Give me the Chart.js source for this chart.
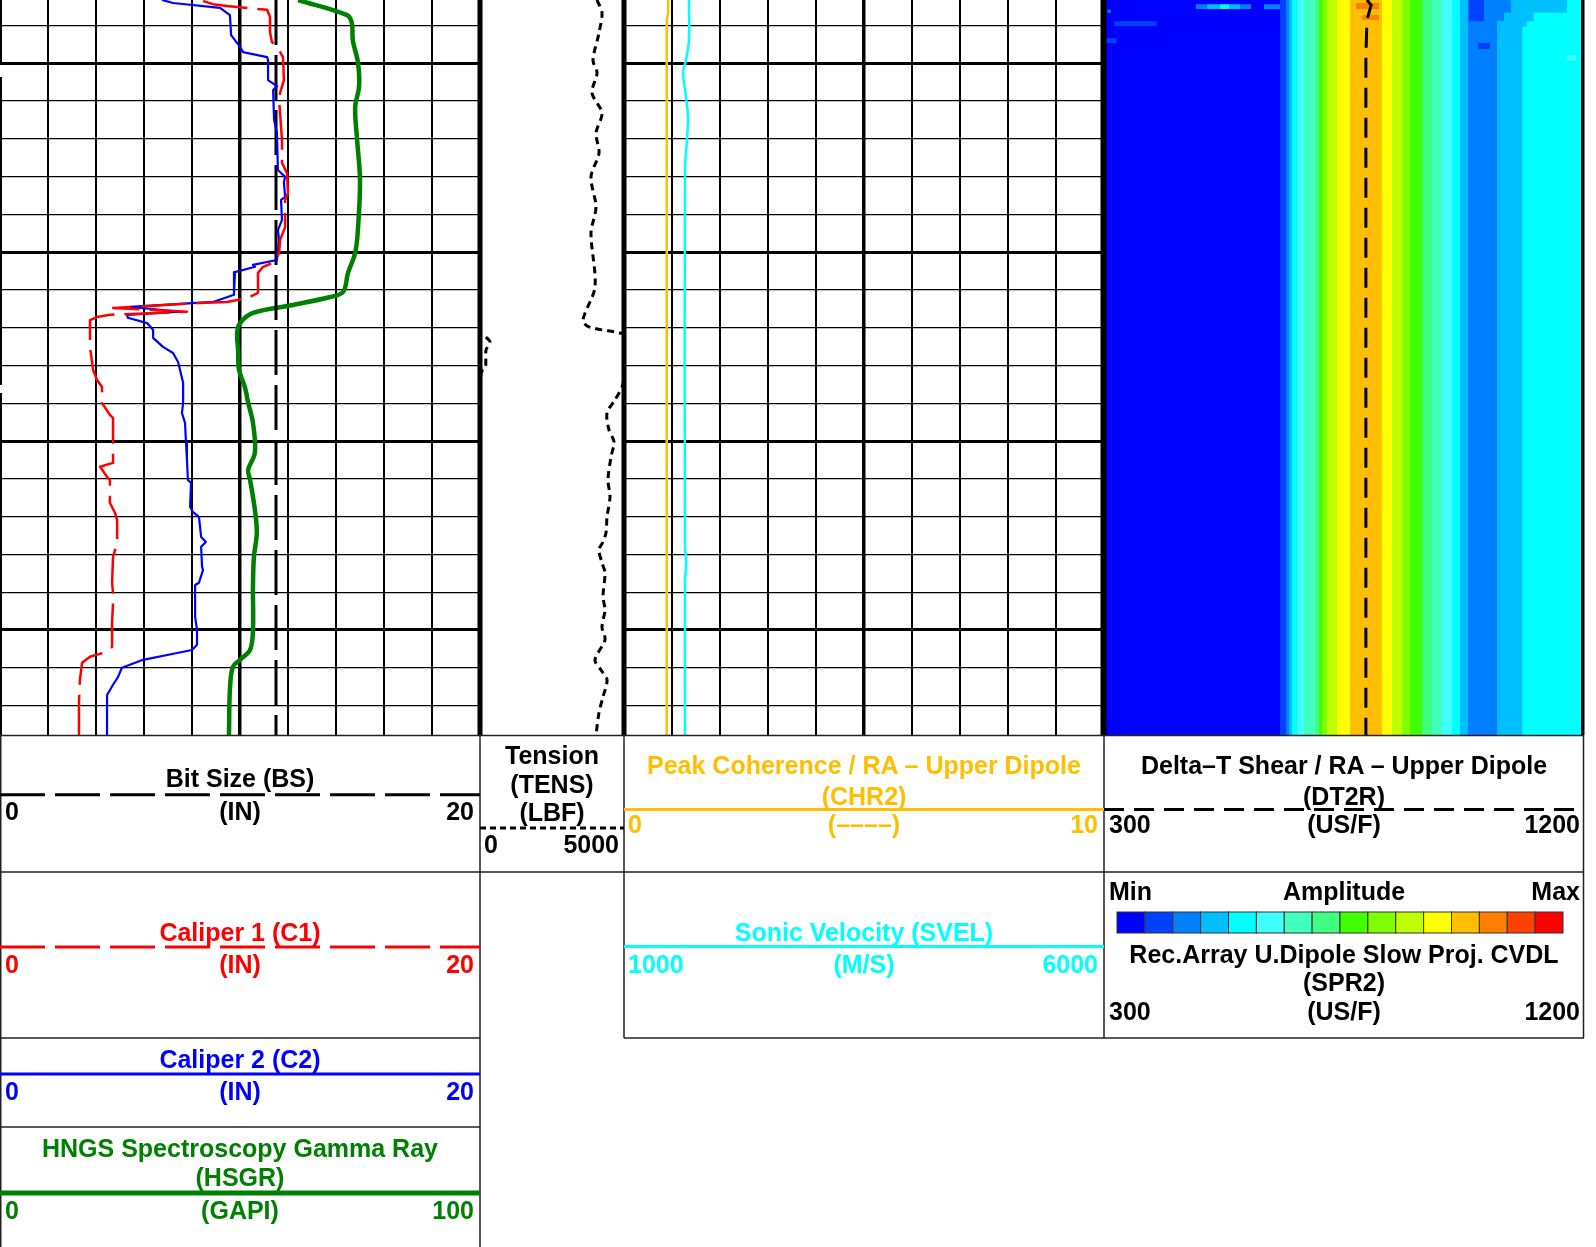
<!DOCTYPE html>
<html>
<head>
<meta charset="utf-8">
<script src="https://cdn.jsdelivr.net/npm/chart.js@4.4.1/dist/chart.umd.min.js"></script>
<style>
  html, body { margin: 0; padding: 0; background: #fff; }
  body { width: 1596px; height: 1247px; position: relative; overflow: hidden; }
  canvas { position: absolute; top: 0; }
  #frame { position: absolute; left: 0; top: 0; }
</style>
</head>
<body>
<canvas id="trackMain" width="480" height="735" style="left:0"></canvas>
<canvas id="trackTension" width="144" height="735" style="left:480px"></canvas>
<canvas id="trackSonic" width="480" height="735" style="left:624px"></canvas>
<canvas id="trackVdl" width="480" height="735" style="left:1104px"></canvas>
<svg id="frame" width="1596" height="1247"></svg>
<script>
// ---- depth window (m) ----
const DEPTH_TOP = 1498.33;
const DEPTH_BOTTOM = 1517.78;

// ---- Bit size (in) ----
const bitSizeDepth = [DEPTH_TOP, DEPTH_BOTTOM];
const bitSizeValue = [11.5, 11.5];

// ---- Caliper 1 (in) ----
const c1Depth = [1498.36, 1498.44, 1498.49, 1498.59, 1498.78, 1499.18, 1499.44, 1499.60, 1499.84,
  1500.45, 1500.79, 1500.98, 1501.69, 1502.03, 1502.64, 1502.91, 1503.44, 1503.62, 1504.34, 1504.68,
  1505.02, 1505.26, 1505.39, 1505.55, 1506.08, 1506.21, 1506.32, 1506.35, 1506.48, 1506.58, 1506.66,
  1506.72, 1506.80, 1507.51, 1508.12, 1508.38, 1508.57, 1508.99, 1509.31, 1509.39, 1510.58, 1510.68,
  1510.95, 1511.03, 1511.64, 1511.90, 1512.09, 1512.70, 1513.07, 1513.75, 1514.02, 1514.28, 1514.81,
  1515.45, 1515.61, 1515.71, 1515.87, 1516.32, 1516.93, 1517.78];
const c1Value = [8.46, 8.88, 9.46, 11.13, 11.25, 11.25, 11.33, 11.58, 11.79,
  11.83, 11.67, 11.63, 11.71, 11.75, 11.75, 11.96, 12.0, 11.88, 11.88, 11.67,
  11.63, 11.46, 10.96, 10.75, 10.75, 10.33, 9.46, 8.33, 4.71, 7.79, 4.58,
  4.04, 3.75, 3.75, 3.88, 4.04, 4.25, 4.25, 4.58, 4.71, 4.71, 4.17,
  4.46, 4.58, 4.58, 4.79, 4.88, 4.88, 4.71, 4.67, 4.71, 4.71, 4.67,
  4.67, 4.29, 3.75, 3.42, 3.33, 3.29, 3.29];

// ---- Caliper 2 (in) ----
const c2Depth = [1498.33, 1498.41, 1498.54, 1498.73, 1499.26, 1499.57, 1499.71, 1499.84, 1499.92,
  1500.45, 1500.61, 1500.71, 1501.50, 1501.85, 1502.83, 1503.01, 1503.15, 1503.54, 1503.62,
  1504.15, 1504.42, 1504.68, 1505.21, 1505.34, 1505.39, 1505.53, 1506.13, 1506.32, 1506.45,
  1506.58, 1506.66, 1506.74, 1506.88, 1507.06, 1507.27, 1507.51, 1507.67, 1507.91, 1508.46,
  1508.99, 1509.26, 1509.52, 1510.05, 1510.50, 1511.03, 1511.11, 1511.74, 1511.88, 1512.01,
  1512.54, 1512.67, 1512.80, 1513.33, 1513.41, 1513.75, 1513.81, 1514.65, 1515.00, 1515.39,
  1515.53, 1515.61, 1515.79, 1516.00, 1516.24, 1516.45, 1516.72, 1517.78];
const c2Value = [6.75, 7.21, 9.17, 9.58, 9.63, 10.0, 10.13, 11.13, 11.17,
  11.17, 11.54, 11.38, 11.42, 11.54, 11.58, 11.88, 11.83, 11.88, 11.71,
  11.75, 11.58, 11.63, 11.54, 10.54, 10.63, 9.79, 9.75, 8.88, 5.42,
  7.5, 5.29, 5.33, 6.13, 6.38, 6.38, 6.79, 7.21, 7.42, 7.63,
  7.63, 7.58, 7.71, 7.75, 7.79, 7.83, 7.96, 7.92, 8.04, 8.29,
  8.38, 8.58, 8.38, 8.42, 8.46, 8.29, 8.13, 8.13, 8.21, 8.21,
  8.0, 7.38, 5.96, 5.08, 4.92, 4.71, 4.46, 4.46];

// ---- HNGS gamma ray (GAPI) ----
const gammaDepth = [1498.33, 1498.73, 1498.94, 1499.39, 1500.00, 1500.63, 1501.16, 1502.03, 1503.09,
  1504.34, 1505.02, 1505.55, 1506.05, 1506.19, 1506.40, 1506.61, 1506.88, 1507.14, 1507.59,
  1508.12, 1508.57, 1508.99, 1509.52, 1510.31, 1510.76, 1511.03, 1511.82, 1512.43, 1513.07,
  1513.86, 1515.00, 1515.53, 1515.79, 1515.98, 1516.58, 1517.78];
const gammaValue = [62.1, 72.3, 73.3, 73.5, 74.6, 74.8, 74.0, 74.4, 75.0,
  74.6, 74.0, 72.5, 71.5, 68.8, 61.0, 52.7, 50.0, 49.4, 49.6,
  49.8, 51.0, 51.7, 52.7, 53.1, 51.7, 52.1, 53.1, 53.5, 52.9,
  52.7, 52.7, 52.1, 50.0, 48.5, 47.9, 47.7];

// ---- Tension (lbf) ----
const tensionDepth = [1498.33, 1498.67, 1499.20, 1499.92, 1500.26, 1500.79, 1501.32, 1501.85, 1502.38,
  1503.01, 1503.81, 1504.49, 1505.92, 1506.80, 1506.98, 1507.14, 1507.22, 1507.38, 1507.59,
  1508.04, 1508.15, 1508.57, 1508.91, 1509.26, 1509.71, 1510.02, 1510.42, 1511.03, 1511.48,
  1512.01, 1512.43, 1512.67, 1512.88, 1513.22, 1513.49, 1514.12, 1514.47, 1514.92, 1515.26,
  1515.79, 1516.06, 1516.32, 1516.77, 1517.19, 1517.78];
const tensionValue = [4063, 4236, 4132, 3924, 4063, 3889, 4236, 4028, 4132,
  3854, 4028, 3854, 3993, 3576, 3785, 4861, 5139, 5347, 5208,
  5191, 5069, 4931, 4688, 4410, 4479, 4653, 4549, 4444, 4514,
  4410, 4375, 4271, 4132, 4236, 4340, 4271, 4340, 4236, 4340,
  3993, 4201, 4410, 4271, 4132, 4028];

// ---- Peak coherence ----
const chr2Depth = [1498.33, 1498.67, 1498.86, 1517.78];
const chr2Value = [0.92, 0.92, 0.89, 0.89];

// ---- Sonic velocity (m/s) ----
const svelDepth = [1498.33, 1499.39, 1499.92, 1500.23, 1500.90, 1501.43, 1502.03, 1502.83,
  1512.80, 1513.09, 1513.41, 1513.67, 1517.78];
const svelValue = [1677, 1677, 1646, 1615, 1646, 1667, 1656, 1635, 1635, 1646, 1646, 1635, 1635];

// ---- Delta-T shear (us/ft) ----
const dt2rDepth = [1498.33, 1498.46, 1498.86, 1499.84, 1517.78];
const dt2rValue = [793, 801, 793, 791, 791];

// ---- Slowness projection amplitude map ----
const amplitudeColors = ['#0000FF', '#0040FF', '#0080FF', '#00BFFF', '#00FFFF', '#40FFFF', '#40FFBF', '#40FF80',
  '#40FF00', '#80FF00', '#BFFF00', '#FFFF00', '#FFBF00', '#FF8000', '#FF4000', '#FF0000'];
// each band runs from its starting slowness to the next one (us/ft); level = amplitude class 1..16
const vdlBandStart = [300, 630, 641, 647, 652, 662, 675, 696, 703, 709, 718, 737, 761,
  821, 840, 859, 874, 896, 915, 934, 952, 967, 982, 1037, 1084];
const vdlBandLevel = [1, 2, 3, 4, 5, 6, 7, 8, 9, 10, 11, 12, 13,
  12, 11, 10, 9, 8, 7, 6, 5, 4, 3, 4, 5];
// local amplitude cells near the top of the interval
const cellDepthTop = [1498.33, 1498.33, 1498.33, 1498.67, 1498.67, 1498.67, 1498.89, 1499.47, 1499.79,
  1498.44, 1498.44, 1498.44, 1498.44, 1498.44, 1498.44, 1498.59, 1498.89, 1499.34, 1498.41, 1498.73];
const cellDepthBottom = [1498.67, 1498.67, 1498.67, 1498.89, 1498.89, 1498.89, 1499.04, 1499.63, 1499.94,
  1498.57, 1498.57, 1498.57, 1498.57, 1498.57, 1498.57, 1498.67, 1499.02, 1499.47, 1498.57, 1498.86];
const cellSlowLeft = [984, 1012.5, 1063, 984, 1012.5, 1050, 1040.6, 1001, 1166,
  472, 493, 516, 536, 555, 600, 306, 319, 305, 772, 784];
const cellSlowRight = [1012.5, 1063, 1168, 1012.5, 1050, 1106, 1093, 1024, 1185,
  493, 516, 536, 555, 576, 630, 313, 399, 324, 816, 816];
const cellLevel = [2, 3, 4, 2, 3, 4, 4, 2, 6,
  3, 4, 5, 4, 3, 3, 3, 2, 2, 14, 14];

// ---- scale ranges ----
const CAL_MIN = 0, CAL_MAX = 20;
const GR_MIN = 0, GR_MAX = 100;
const TENS_MIN = 0, TENS_MAX = 5000;
const CHR_MIN = 0, CHR_MAX = 10;
const SVEL_MIN = 1000, SVEL_MAX = 6000;
const DT_MIN = 300, DT_MAX = 1200;

Chart.defaults.animation = false;
Chart.defaults.events = [];
Chart.defaults.plugins.legend.display = false;
Chart.defaults.plugins.tooltip.enabled = false;

const isWhole = v => Math.abs(v - Math.round(v)) < 1e-6;

function pairs(depths, values) {
  return depths.map((d, i) => ({ x: values[i], y: d }));
}
function curve(depths, values, opts) {
  return Object.assign({
    data: pairs(depths, values), showLine: true, pointRadius: 0, fill: false,
    borderJoinStyle: 'round', borderCapStyle: 'butt'
  }, opts);
}

const depthGridAxis = {
  type: 'linear', reverse: true, min: DEPTH_TOP, max: DEPTH_BOTTOM,
  ticks: { display: false, stepSize: 1 },
  border: { display: false },
  grid: {
    drawTicks: false,
    color: c => isWhole(c.tick.value) ? '#000' : 'rgba(0,0,0,0)',
    lineWidth: c => (isWhole(c.tick.value) && Math.round(c.tick.value) % 5 === 0) ? 3 : 1.3
  },
  afterFit: s => { s.width = 0; }
};
const depthPlainAxis = { type: 'linear', reverse: true, min: DEPTH_TOP, max: DEPTH_BOTTOM, display: false };

function linearGridAxis(min, max, step) {
  const mid = (min + max) / 2;
  return {
    type: 'linear', min, max,
    ticks: { display: false, stepSize: step },
    border: { display: false },
    grid: {
      drawTicks: false,
      color: c => (c.tick.value === min || c.tick.value === max) ? 'rgba(0,0,0,0)' : '#000',
      lineWidth: c => c.tick.value === mid ? 3.5 : 2
    },
    afterFit: s => { s.height = 0; }
  };
}

const baseOptions = {
  responsive: false, maintainAspectRatio: false,
  layout: { padding: 0 }
};

// ---- Track 1: calipers, bit size, gamma ray ----
new Chart(document.getElementById('trackMain'), {
  type: 'scatter',
  data: {
    datasets: [
      curve(c1Depth, c1Value, { borderColor: '#FF0000', borderWidth: 2.5, borderDash: [45, 10], xAxisID: 'x' }),
      curve(c2Depth, c2Value, { borderColor: '#0000FF', borderWidth: 2.2, xAxisID: 'x' }),
      curve(bitSizeDepth, bitSizeValue, { borderColor: '#000', borderWidth: 3, borderDash: [45, 10], xAxisID: 'x' }),
      curve(gammaDepth, gammaValue, { borderColor: '#008000', borderWidth: 4.5, tension: 0.35, xAxisID: 'xGr' })
    ]
  },
  options: Object.assign({}, baseOptions, {
    scales: {
      x: linearGridAxis(CAL_MIN, CAL_MAX, 2),
      xGr: { type: 'linear', min: GR_MIN, max: GR_MAX, display: false },
      y: depthGridAxis
    }
  })
});

// ---- Track 2: cable tension, with wrap-around onto the backup scale ----
const tensionBackup = tensionValue.map(v => v - (TENS_MAX - TENS_MIN));
new Chart(document.getElementById('trackTension'), {
  type: 'scatter',
  data: {
    datasets: [
      curve(tensionDepth, tensionValue, { borderColor: '#000', borderWidth: 3, borderDash: [7, 5], tension: 0.3 }),
      curve(tensionDepth, tensionBackup, { borderColor: '#000', borderWidth: 3, borderDash: [7, 5], tension: 0.3 })
    ]
  },
  options: Object.assign({}, baseOptions, {
    scales: {
      x: { type: 'linear', min: TENS_MIN, max: TENS_MAX, display: false },
      y: depthPlainAxis
    }
  })
});

// ---- Track 3: coherence and sonic velocity ----
new Chart(document.getElementById('trackSonic'), {
  type: 'scatter',
  data: {
    datasets: [
      curve(chr2Depth, chr2Value, { borderColor: '#FFBF00', borderWidth: 2.5, xAxisID: 'x' }),
      curve(svelDepth, svelValue, { borderColor: '#00FFFF', borderWidth: 2.5, tension: 0.3, xAxisID: 'xVel' })
    ]
  },
  options: Object.assign({}, baseOptions, {
    scales: {
      x: linearGridAxis(CHR_MIN, CHR_MAX, 1),
      xVel: { type: 'linear', min: SVEL_MIN, max: SVEL_MAX, display: false },
      y: depthGridAxis
    }
  })
});

// ---- Track 4: slowness projection map with DT2R ----
function cell(s0, s1, d0, d1, level, order) {
  return {
    data: [{ x: s0, y: d0 }, { x: s1, y: d0 }],
    showLine: true, pointRadius: 0, borderWidth: 0, borderColor: 'rgba(0,0,0,0)',
    backgroundColor: amplitudeColors[level - 1],
    fill: { value: d1 }, order
  };
}
const vdlSets = [];
vdlBandStart.forEach((s, i) => {
  // each band painted to the right edge; the next band covers the remainder
  vdlSets.push(cell(s, DT_MAX, DEPTH_TOP, DEPTH_BOTTOM, vdlBandLevel[i], -i));
});
cellLevel.forEach((lv, i) => {
  vdlSets.push(cell(cellSlowLeft[i], cellSlowRight[i], cellDepthTop[i], cellDepthBottom[i], lv, -100 - i));
});
vdlSets.push(curve(dt2rDepth, dt2rValue, { borderColor: '#000', borderWidth: 3, borderDash: [20, 10], order: -500 }));

new Chart(document.getElementById('trackVdl'), {
  type: 'scatter',
  data: { datasets: vdlSets },
  options: Object.assign({}, baseOptions, {
    scales: {
      x: { type: 'linear', min: DT_MIN, max: DT_MAX, display: false },
      y: depthPlainAxis
    }
  })
});

// ---- track frames and header panel ----
const NS = 'http://www.w3.org/2000/svg';
const svg = document.getElementById('frame');
function el(tag, attrs, text) {
  const e = document.createElementNS(NS, tag);
  for (const k in attrs) e.setAttribute(k, attrs[k]);
  if (text !== undefined) e.textContent = text;
  svg.appendChild(e);
  return e;
}
function rect(x, y, w, h, fill) { el('rect', { x, y, width: w, height: h, fill }); }
function line(x1, y1, x2, y2, stroke, width, dash) {
  const a = { x1, y1, x2, y2, stroke, 'stroke-width': width };
  if (dash) a['stroke-dasharray'] = dash;
  el('line', a);
}
function label(x, y, text, color, anchor) {
  el('text', {
    x, y, fill: color, 'text-anchor': anchor || 'middle',
    'font-family': 'Liberation Sans, Arial, sans-serif', 'font-weight': 'bold', 'font-size': 25
  }, text);
}

// track borders
rect(0, 0, 2, 65, '#000'); rect(0, 77, 2, 308, '#000'); rect(0, 393, 2, 342, '#000');
rect(477.5, 0, 5, 735, '#000');
rect(621.5, 0, 5, 735, '#000');
rect(1100.5, 0, 6, 735, '#000');
rect(1581, 0, 3.5, 735, '#000');

// header cell boxes
const G = '#222';
line(0, 735.5, 1584, 735.5, G, 1.5);
line(0, 872, 1584, 872, G, 1.5);
line(0, 1038, 480, 1038, G, 1.5);
line(624, 1038, 1584, 1038, G, 1.5);
line(0, 1127, 480, 1127, G, 1.5);
line(0.75, 735, 0.75, 1247, G, 1.5);
line(480, 735, 480, 1247, G, 1.5);
line(624, 735, 624, 1038, G, 1.5);
line(1104, 735, 1104, 1038, G, 1.5);
line(1583.5, 735, 1583.5, 1038, G, 1.5);

// Bit size
line(0, 794.7, 480, 794.7, '#000', 3, '45 10');
label(240, 787, 'Bit Size (BS)', '#000');
label(5, 820, '0', '#000', 'start'); label(240, 820, '(IN)', '#000'); label(474, 820, '20', '#000', 'end');

// Tension
label(552, 764, 'Tension', '#000');
label(552, 793, '(TENS)', '#000');
label(552, 821, '(LBF)', '#000');
line(480, 828, 624, 828, '#000', 3, '6 4');
label(484, 853, '0', '#000', 'start'); label(619, 853, '5000', '#000', 'end');

// Peak coherence
const ORANGE = '#FFBF00';
label(864, 774, 'Peak Coherence / RA \u2013 Upper Dipole', ORANGE);
label(864, 805, '(CHR2)', ORANGE);
line(624, 809.5, 1104, 809.5, ORANGE, 3);
label(628, 833, '0', ORANGE, 'start'); label(864, 833, '(\u2013\u2013\u2013\u2013)', ORANGE); label(1098, 833, '10', ORANGE, 'end');

// Delta-T shear
label(1344, 774, 'Delta\u2013T Shear / RA \u2013 Upper Dipole', '#000');
label(1344, 805, '(DT2R)', '#000');
line(1104, 809.5, 1584, 809.5, '#000', 3, '20 10');
label(1109, 833, '300', '#000', 'start'); label(1344, 833, '(US/F)', '#000'); label(1580, 833, '1200', '#000', 'end');

// Caliper 1
label(240, 941, 'Caliper 1 (C1)', '#FF0000');
line(0, 947, 480, 947, '#FF0000', 3, '45 10');
label(5, 973, '0', '#FF0000', 'start'); label(240, 973, '(IN)', '#FF0000'); label(474, 973, '20', '#FF0000', 'end');

// Sonic velocity
label(864, 941, 'Sonic Velocity (SVEL)', '#00FFFF');
line(624, 946.5, 1104, 946.5, '#00FFFF', 3);
label(628, 973, '1000', '#00FFFF', 'start'); label(864, 973, '(M/S)', '#00FFFF'); label(1098, 973, '6000', '#00FFFF', 'end');

// Amplitude palette and SPR2
label(1109, 900, 'Min', '#000', 'start'); label(1344, 900, 'Amplitude', '#000'); label(1580, 900, 'Max', '#000', 'end');
const barX = 1117, barW = 446, barY = 912, barH = 21;
amplitudeColors.forEach((c, i) => {
  el('rect', { x: barX + i * barW / amplitudeColors.length, y: barY, width: barW / amplitudeColors.length, height: barH,
    fill: c, stroke: '#333', 'stroke-width': 1 });
});
label(1344, 963, 'Rec.Array U.Dipole Slow Proj. CVDL', '#000');
label(1344, 991, '(SPR2)', '#000');
label(1109, 1020, '300', '#000', 'start'); label(1344, 1020, '(US/F)', '#000'); label(1580, 1020, '1200', '#000', 'end');

// Caliper 2
label(240, 1068, 'Caliper 2 (C2)', '#0000FF');
line(0, 1074, 480, 1074, '#0000FF', 3);
label(5, 1100, '0', '#0000FF', 'start'); label(240, 1100, '(IN)', '#0000FF'); label(474, 1100, '20', '#0000FF', 'end');

// Gamma ray
const GREEN = '#008000';
label(240, 1157, 'HNGS Spectroscopy Gamma Ray', GREEN);
label(240, 1186, '(HSGR)', GREEN);
line(0, 1193, 480, 1193, GREEN, 5);
label(5, 1219, '0', GREEN, 'start'); label(240, 1219, '(GAPI)', GREEN); label(474, 1219, '100', GREEN, 'end');
</script>
</body>
</html>
